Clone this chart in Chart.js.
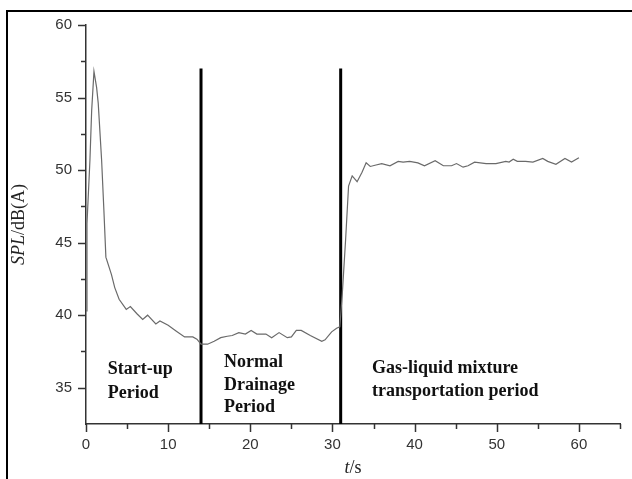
<!DOCTYPE html>
<html>
<head>
<meta charset="utf-8">
<script src="https://cdn.jsdelivr.net/npm/chart.js@4"></script>
<style>
  html,body{margin:0;padding:0;background:#fff}
  #wrap{width:632px;height:479px;position:relative}
</style>
</head>
<body>
<div id="wrap"><canvas id="splChart"></canvas></div>
<script>
// Sound pressure level vs time
const time = [0,0.12,0.48,0.69,0.97,1.29,1.49,1.9,2.18,2.42,3.1,3.5,4.03,4.9,5.4,6.2,6.9,7.5,8.5,9.0,
  10.0,11.0,12.0,13.0,13.5,14.0,14.8,15.6,16.4,17.2,17.8,18.6,19.4,20.1,20.8,21.9,22.6,23.5,24.5,25.0,
  25.6,26.2,27.3,28.7,29.1,29.9,30.5,30.9,31.2,31.6,31.96,32.4,33.0,33.6,34.1,34.6,35.3,36.0,37.0,38.0,
  38.6,39.4,40.4,41.2,42.5,43.5,44.5,45.1,45.9,46.5,47.3,48.7,49.9,51.1,51.5,52.0,52.5,53.5,54.4,55.6,
  56.2,57.2,58.3,59.1,60.0];
const spl = [40.3,46.3,50.7,54.1,56.8,55.7,54.6,50.7,47.2,44.0,42.8,41.9,41.1,40.4,40.6,40.1,39.7,40.0,39.4,39.6,
  39.3,38.9,38.5,38.5,38.35,38.0,38.0,38.2,38.45,38.55,38.6,38.8,38.7,38.95,38.7,38.7,38.45,38.8,38.45,38.5,
  38.95,38.95,38.6,38.2,38.3,38.85,39.1,39.2,41.5,45.2,48.9,49.6,49.2,49.85,50.5,50.25,50.35,50.45,50.3,50.6,
  50.55,50.6,50.5,50.3,50.65,50.3,50.3,50.45,50.2,50.3,50.55,50.45,50.45,50.6,50.55,50.75,50.6,50.6,50.55,50.8,
  50.6,50.4,50.8,50.55,50.85];

// period boundaries (s) and top of the divider bars (dB)
const dividers = [14, 31];
const dividerTop = 57;

// axis ranges
const xMin = 0, xMax = 65, xStep = 5;
const yMin = 32.5, yMax = 60, yStep = 2.5;

// period labels: text lines, anchor time and level of each line
const periodLabels = [
  {lines:['Start-up','Period'], t:2.66, v:[36.26,34.62]},
  {lines:['Normal','Drainage','Period'], t:16.8, v:[36.77,35.16,33.65]},
  {lines:['Gas-liquid mixture','transportation period'], t:34.8, v:[36.31,34.74]}
];

const axisCol = '#333';

const datasets = [{
  data: time.map((t,i) => ({x:t, y:spl[i]})),
  borderColor:'#6a6a6a', borderWidth:1.2, pointRadius:0, tension:0, fill:false
}];
dividers.forEach(d => datasets.push({
  data:[{x:d, y:yMin},{x:d, y:dividerTop}],
  borderColor:'#000', borderWidth:3, pointRadius:0, fill:false
}));

const decor = {
  id:'decor',
  beforeDraw(chart){
    const c = chart.ctx;
    c.save();
    c.fillStyle = '#fff';
    c.fillRect(0,0,chart.width,chart.height);
    c.strokeStyle = '#000'; c.lineWidth = 2;
    c.beginPath();
    c.moveTo(7, chart.height); c.lineTo(7, 11); c.lineTo(chart.width, 11);
    c.stroke();
    c.restore();
  },
  afterDraw(chart){
    const c = chart.ctx, a = chart.chartArea;
    const xs = chart.scales.x, ys = chart.scales.y;
    c.save();
    // tick marks, major long / minor short
    c.strokeStyle = axisCol; c.lineWidth = 1.5;
    ys.ticks.forEach(tk => {
      if (tk.value <= yMin) return;
      const len = tk.value % 5 === 0 ? 8 : 5;
      const py = Math.round(ys.getPixelForValue(tk.value)) + 0.5;
      c.beginPath(); c.moveTo(a.left, py); c.lineTo(a.left - len, py); c.stroke();
    });
    xs.ticks.forEach(tk => {
      const len = tk.value % 10 === 0 ? 8 : 5;
      const px = Math.round(xs.getPixelForValue(tk.value)) + 0.5;
      c.beginPath(); c.moveTo(px, a.bottom); c.lineTo(px, a.bottom + len); c.stroke();
    });

    // period labels
    c.fillStyle = '#111';
    c.font = 'bold 18px "Liberation Serif", "DejaVu Serif", serif';
    c.textAlign = 'left'; c.textBaseline = 'middle';
    periodLabels.forEach(p => {
      const px = xs.getPixelForValue(p.t);
      p.lines.forEach((ln,i) => c.fillText(ln, px, ys.getPixelForValue(p.v[i])));
    });

    // axis titles with italic symbols
    const drawMixed = (parts, cx, cy) => {
      let w = 0;
      parts.forEach(p => { c.font = p[1]; w += c.measureText(p[0]).width; });
      let x = cx - w/2;
      parts.forEach(p => { c.font = p[1]; c.fillText(p[0], x, cy); x += c.measureText(p[0]).width; });
    };
    const it = 'italic 18px "Liberation Serif", serif', rm = '18px "Liberation Serif", serif';
    c.fillStyle = '#222'; c.textBaseline = 'middle';
    drawMixed([['t',it],['/s',rm]], (a.left + a.right)/2, 468);
    c.translate(19, (a.top + a.bottom)/2);
    c.rotate(-Math.PI/2);
    drawMixed([['SPL',it],['/dB(A)',rm]], 0, 0);
    c.restore();
  }
};

new Chart(document.getElementById('splChart'), {
  type:'line',
  data:{datasets},
  plugins:[decor],
  options:{
    responsive:true, maintainAspectRatio:false, animation:false,
    layout:{padding:{left:0, right:9, top:25, bottom:0}},
    plugins:{legend:{display:false}, tooltip:{enabled:false}},
    scales:{
      x:{
        type:'linear', min:xMin, max:xMax,
        grid:{display:false, drawTicks:false},
        border:{display:true, color:axisCol, width:1.5},
        afterFit(s){ s.height = 55; },
        ticks:{stepSize:xStep, padding:12, autoSkip:false, maxRotation:0, color:'#333',
          font:{family:'"Liberation Sans", Arial, sans-serif', size:15},
          callback:v => (v % 10 === 0 && v <= 60) ? v : ''}
      },
      y:{
        min:yMin, max:yMax,
        grid:{display:false, drawTicks:false},
        border:{display:true, color:axisCol, width:1.5},
        afterFit(s){ s.width = 86; },
        ticks:{stepSize:yStep, padding:14, autoSkip:false, color:'#333',
          font:{family:'"Liberation Sans", Arial, sans-serif', size:15},
          callback:v => (v % 5 === 0) ? v : ''}
      }
    }
  }
});
</script>
</body>
</html>
